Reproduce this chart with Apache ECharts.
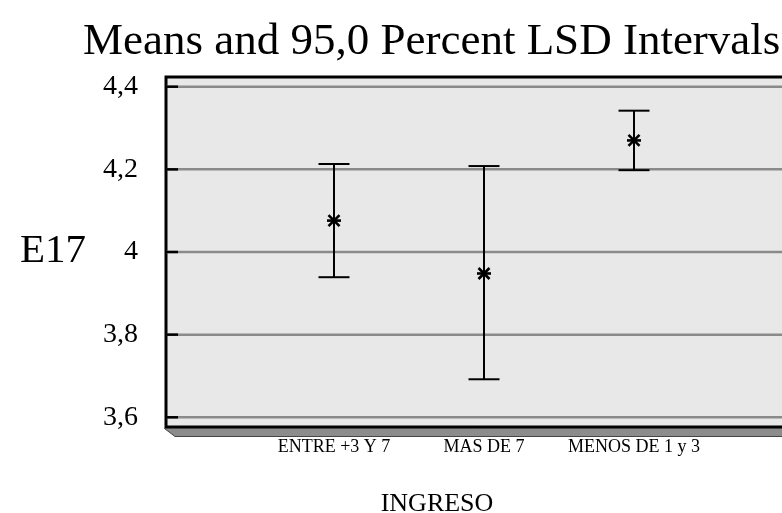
<!DOCTYPE html>
<html><head><meta charset="utf-8">
<script src="https://cdn.jsdelivr.net/npm/echarts@6/dist/echarts.min.js"></script>
<style>html,body{margin:0;padding:0;background:#fff}#c{width:782px;height:513px}</style>
</head><body><div id="c"></div>
<script>
// ---- data ----
const categories = ['ENTRE +3 Y 7', 'MAS DE 7', 'MENOS DE 1 y 3'];
const positions = [1, 2, 3];
const means = [4.076, 3.948, 4.270];
const lower = [3.939, 3.692, 4.198];
const upper = [4.213, 4.208, 4.342];
const yTicks = [3.6, 3.8, 4.0, 4.2, 4.4];
const titleText = 'Means and 95,0 Percent LSD Intervals';
const yName = 'E17';
const xName = 'INGRESO';

const FONT = '"Liberation Serif","Times New Roman",Times,serif';
const chart = echarts.init(document.getElementById('c'), null, {renderer: 'canvas'});

function fmtY(v) { return String(+(+v).toFixed(1)).replace('.', ','); }

const option = {
  animation: false,
  backgroundColor: '#ffffff',
  title: [
    {text: titleText, left: 78, top: 15,
     textStyle: {fontFamily: FONT, fontSize: 45, fontWeight: 'normal', color: '#000'}},
    {text: yName, left: 15, top: 226,
     textStyle: {fontFamily: FONT, fontSize: 41, fontWeight: 'normal', color: '#000'}},
    {text: xName, left: 432, top: 486, textAlign: 'center',
     textStyle: {fontFamily: FONT, fontSize: 26, fontWeight: 'normal', color: '#000'}}
  ],
  grid: {left: 166, top: 77, bottom: 86, right: -20, show: true,
         outerBoundsMode: 'none', containLabel: false,
         backgroundColor: '#e8e8e8', borderColor: '#000', borderWidth: 3},
  xAxis: {
    type: 'value', min: -0.12, max: 4.12,
    axisLine: {show: false}, axisTick: {show: false}, splitLine: {show: false},
    axisLabel: {customValues: positions, margin: 11,
      formatter: v => categories[positions.indexOf(+v)] || '',
      fontFamily: FONT, fontSize: 18, color: '#000'}
  },
  yAxis: {
    type: 'value', min: 3.5765, max: 4.4235,
    axisLine: {show: false}, axisTick: {show: false}, splitLine: {show: false},
    axisLabel: {customValues: yTicks, margin: 28, formatter: fmtY,
      fontFamily: FONT, fontSize: 28, color: '#000', padding: [6, 0, 0, 0]}
  },
  series: [
    {
      type: 'custom', z: 1, silent: true,
      data: yTicks.map(v => [1, v]),
      encode: {x: 0, y: 1},
      renderItem: function (params, api) {
        const cs = params.coordSys;
        const y = api.coord([1, api.value(1)])[1];
        return {type: 'group', children: [
          {type: 'line', shape: {x1: cs.x, y1: y, x2: cs.x + cs.width, y2: y},
           style: {stroke: '#8a8a8a', lineWidth: 2.5}},
          {type: 'line', shape: {x1: cs.x, y1: y, x2: cs.x + 12, y2: y},
           style: {stroke: '#000', lineWidth: 2.5}}
        ]};
      }
    },
    {
      type: 'custom', z: 1, silent: true, clip: false,
      data: [[1, yTicks[0]]],
      encode: {x: 0, y: 1},
      renderItem: function (params, api) {
        const cs = params.coordSys;
        const yb = cs.y + cs.height + 1.5;
        return {type: 'polygon',
          shape: {points: [[cs.x - 1.5, yb], [cs.x + cs.width, yb], [cs.x + cs.width, yb + 8], [cs.x + 9, yb + 8]]},
          style: {fill: '#8c8c8c', stroke: '#444', lineWidth: 1}};
      }
    },
    {
      type: 'custom', z: 3, silent: true,
      data: positions.map((p, i) => [p, lower[i], upper[i], means[i]]),
      encode: {x: 0, y: [1, 2, 3]},
      renderItem: function (params, api) {
        const x = api.coord([api.value(0), api.value(3)])[0];
        const yl = api.coord([api.value(0), api.value(1)])[1];
        const yh = api.coord([api.value(0), api.value(2)])[1];
        const ym = api.coord([api.value(0), api.value(3)])[1];
        const st = {stroke: '#000', lineWidth: 2};
        const cap = 15.5, s = 7, d = 5.5;
        const bold = {stroke: '#000', lineWidth: 2.6};
        return {type: 'group', children: [
          {type: 'line', shape: {x1: x, y1: yl, x2: x, y2: yh}, style: st},
          {type: 'line', shape: {x1: x - cap, y1: yl, x2: x + cap, y2: yl}, style: st},
          {type: 'line', shape: {x1: x - cap, y1: yh, x2: x + cap, y2: yh}, style: st},
          {type: 'line', shape: {x1: x - s, y1: ym, x2: x + s, y2: ym}, style: bold},
          {type: 'line', shape: {x1: x - d, y1: ym - d, x2: x + d, y2: ym + d}, style: bold},
          {type: 'line', shape: {x1: x - d, y1: ym + d, x2: x + d, y2: ym - d}, style: bold}
        ]};
      }
    }
  ]
};
chart.setOption(option);
</script>
</body></html>
